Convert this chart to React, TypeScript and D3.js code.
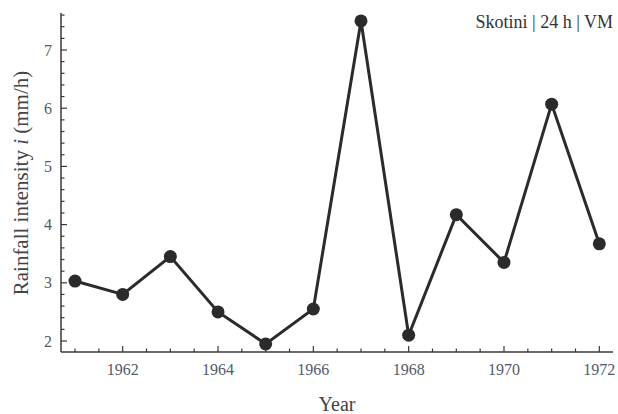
import React, { useEffect, useRef } from 'react';
import * as d3 from 'd3';

// Annual maximum rainfall intensity, Skotini station
const years: number[] = [1961, 1962, 1963, 1964, 1965, 1966, 1967, 1968, 1969, 1970, 1971, 1972];
const intensity: number[] = [3.03, 2.8, 3.45, 2.5, 1.95, 2.55, 7.5, 2.1, 4.17, 3.35, 6.07, 3.67];
const xTickYears: number[] = [1962, 1964, 1966, 1968, 1970, 1972];
const yTickValues: number[] = [2, 3, 4, 5, 6, 7];

const W = 618;
const H = 414;

const App: React.FC = () => {
  const svgRef = useRef<SVGSVGElement>(null);

  useEffect(() => {
    document.body.style.margin = '0';
    if (!svgRef.current) return;
    const svg = d3.select(svgRef.current);
    svg.selectAll('*').remove();

    const font = '"Liberation Serif", "DejaVu Serif", serif';
    const axisColor = '#3a3a3a';
    const labelColor = '#525a68';

    const x = d3.scaleLinear().domain([1960.706, 1972.287]).range([61, 613]);
    const y = d3.scaleLinear().domain([1.811, 7.636]).range([352, 13]);

    // axes
    const xAxis = svg.append('g').attr('transform', `translate(0,${y.range()[0]})`);
    xAxis.append('line')
      .attr('x1', x.range()[0]).attr('x2', x.range()[1])
      .attr('stroke', axisColor).attr('stroke-width', 1.5);
    const xMinor = d3.range(1961, 1972.01, 0.5);
    xAxis.selectAll('.xt').data(xMinor).enter().append('line')
      .attr('x1', d => x(d)).attr('x2', d => x(d))
      .attr('y1', 0).attr('y2', d => (xTickYears.includes(d) ? -6 : -3.5))
      .attr('stroke', axisColor).attr('stroke-width', 1.2);
    xAxis.selectAll('.xl').data(xTickYears).enter().append('text')
      .attr('x', d => x(d)).attr('y', 23)
      .attr('text-anchor', 'middle')
      .attr('font-family', font).attr('font-size', 16)
      .attr('fill', labelColor)
      .text(d => String(d));

    const yAxis = svg.append('g').attr('transform', `translate(${x.range()[0]},0)`);
    yAxis.append('line')
      .attr('y1', y.range()[0]).attr('y2', y.range()[1])
      .attr('stroke', axisColor).attr('stroke-width', 1.5);
    const yMinor = d3.range(2, 7.61, 0.2);
    yAxis.selectAll('.yt').data(yMinor).enter().append('line')
      .attr('y1', d => y(d)).attr('y2', d => y(d))
      .attr('x1', 0).attr('x2', d => (Math.abs(d - Math.round(d)) < 1e-6 ? 6 : 3.5))
      .attr('stroke', axisColor).attr('stroke-width', 1.2);
    yAxis.selectAll('.yl').data(yTickValues).enter().append('text')
      .attr('x', -9).attr('y', d => y(d)).attr('dy', '0.35em')
      .attr('text-anchor', 'end')
      .attr('font-family', font).attr('font-size', 16)
      .attr('fill', labelColor)
      .text(d => String(d));

    // axis titles
    svg.append('text')
      .attr('x', 337).attr('y', 411)
      .attr('text-anchor', 'middle')
      .attr('font-family', font).attr('font-size', 20)
      .attr('fill', '#444')
      .text('Year');

    const yTitle = svg.append('text')
      .attr('transform', 'translate(28,183) rotate(-90)')
      .attr('text-anchor', 'middle')
      .attr('font-family', font).attr('font-size', 21)
      .attr('fill', '#444');
    yTitle.append('tspan').text('Rainfall intensity ');
    yTitle.append('tspan').attr('font-style', 'italic').text('i');
    yTitle.append('tspan').text(' (mm/h)');

    // series
    const pts: [number, number][] = years.map((yr, i) => [yr, intensity[i]]);
    const line = d3.line<[number, number]>().x(d => x(d[0])).y(d => y(d[1]));
    svg.append('path')
      .datum(pts)
      .attr('d', line)
      .attr('fill', 'none')
      .attr('stroke', '#2b2b2b')
      .attr('stroke-width', 3)
      .attr('stroke-linejoin', 'miter');
    svg.selectAll('.pt').data(pts).enter().append('circle')
      .attr('cx', d => x(d[0])).attr('cy', d => y(d[1]))
      .attr('r', 6.5)
      .attr('fill', '#2b2b2b');

    // station tag
    svg.append('text')
      .attr('x', 613).attr('y', 28)
      .attr('text-anchor', 'end')
      .attr('font-family', font).attr('font-size', 18)
      .attr('fill', '#333')
      .text('Skotini | 24 h | VM');
  }, []);

  return (
    <svg ref={svgRef} width={W} height={H} style={{ display: 'block', background: '#fff' }} />
  );
};

export default App;
